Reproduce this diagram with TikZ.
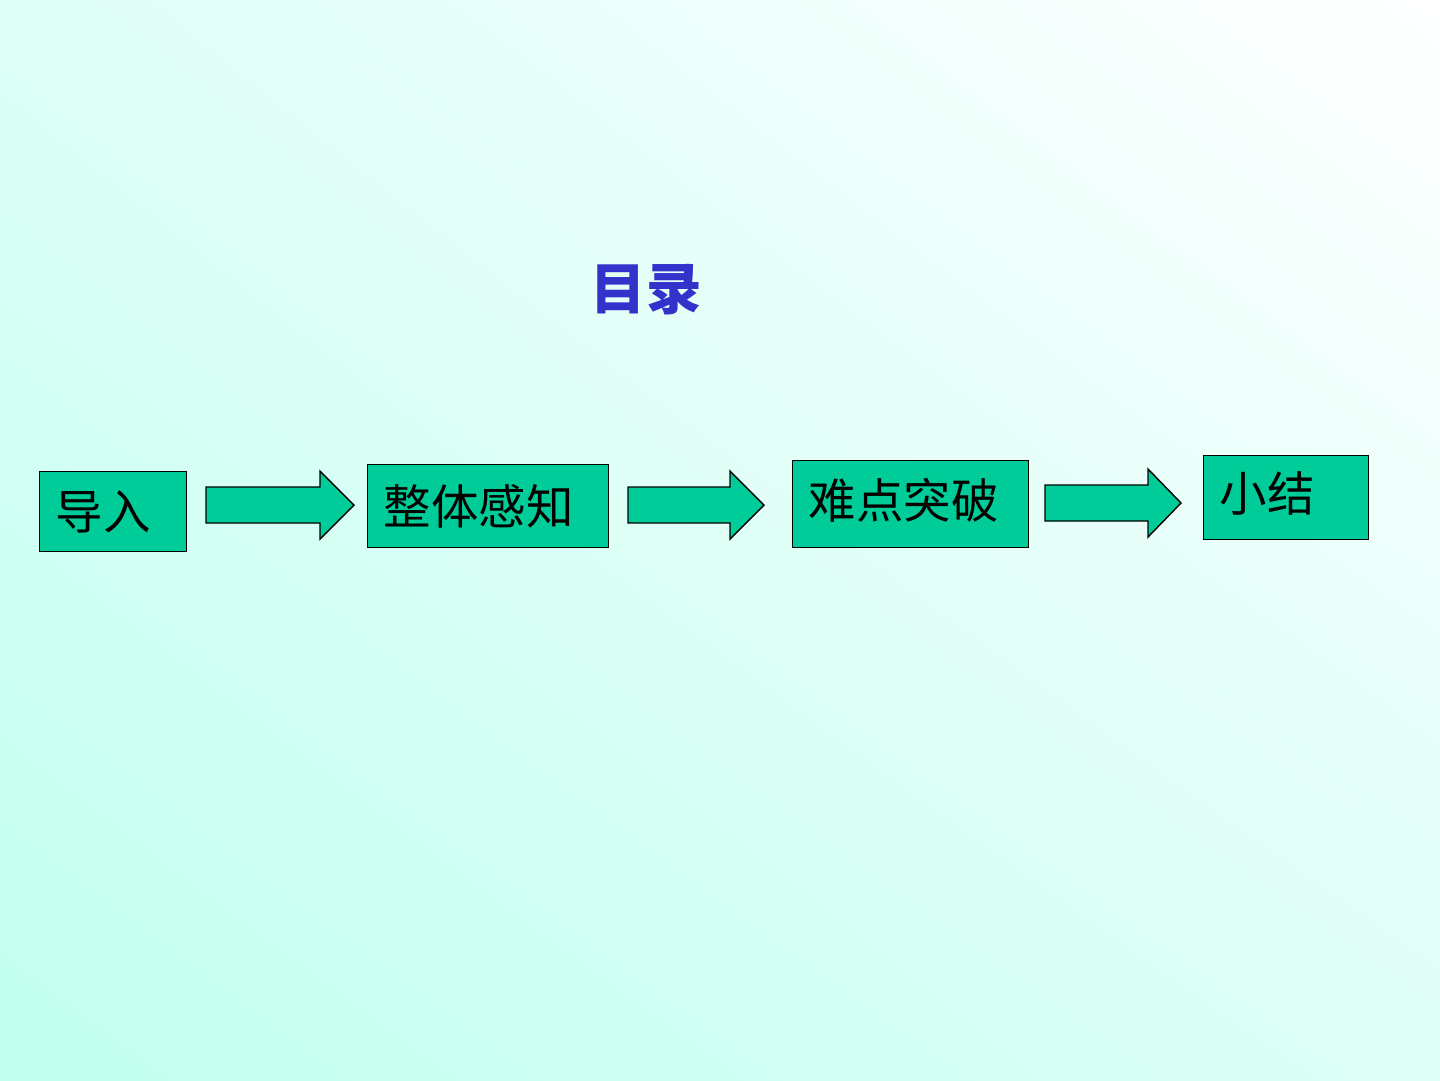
\documentclass[tikz,border=0pt]{standalone}
\usepackage{fontspec}
\usetikzlibrary{shadings}
\newfontfamily\cjk{Noto Sans CJK SC}
\definecolor{bgdark}{HTML}{C0FFEE}
\definecolor{bgmid}{HTML}{DEFFF7}
\definecolor{boxgreen}{HTML}{00CC99}
\definecolor{titleblue}{HTML}{3333CC}
\tikzset{
  stepbox/.style={draw=black,line width=0.4pt,fill=boxgreen,anchor=north west,
    inner xsep=1.6mm,align=left,font=\cjk\fontsize{13.5}{15}\selectfont},
  blockarrow/.style={draw=black,line width=0.4pt,fill=boxgreen}
}
\begin{document}
\begin{tikzpicture}[x=0.1mm,y=-0.1mm]
  % hintergrund mit verlauf
  \shade[lower left=bgdark,upper right=white,upper left=bgmid,lower right=bgmid]
    (0,0) rectangle (1440,1080);
  \useasboundingbox (0,0) rectangle (1440,1080);

  % titel
  \node[font=\cjk\bfseries\fontsize{15.8}{18}\selectfont,text=titleblue] (title) at (646,290) {目录};

  % kaestchen
  \node[stepbox,minimum width=14.7mm,minimum height=8.0mm,text width=11.5mm] (daoru) at (39,471) {导入};
  \node[stepbox,minimum width=24.1mm,minimum height=8.3mm,text width=20.9mm] (zhengti) at (367,464) {整体感知};
  \node[stepbox,minimum width=23.6mm,minimum height=8.7mm,text width=20.4mm,text depth=1.2mm] (nandian) at (792,460) {难点突破};
  \node[stepbox,minimum width=16.5mm,minimum height=8.4mm,text width=13.3mm,text depth=1.2mm] (xiaojie) at (1203,455) {小结};

  % blockpfeile: start, kopfansatz, spitze, mitte
  \foreach \xs/\xh/\xt/\ym in {206/320/354/505, 628/730/764/505, 1045/1148/1181/503}
    \draw[blockarrow] (\xs,\ym-18) -- (\xh,\ym-18) -- (\xh,\ym-34) -- (\xt,\ym)
      -- (\xh,\ym+34) -- (\xh,\ym+18) -- (\xs,\ym+18) -- cycle;
\end{tikzpicture}
\end{document}
